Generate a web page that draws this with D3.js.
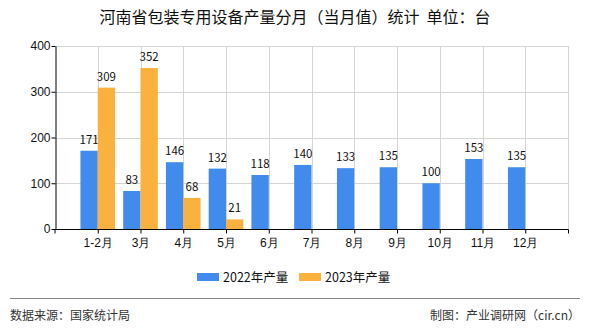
<!DOCTYPE html>
<html>
<head>
<meta charset="utf-8">
<script src="https://cdn.jsdelivr.net/npm/d3@7"></script>
<style>
  html, body { margin: 0; padding: 0; background: #fff; }
  svg { display: block; font-family: "Noto Sans CJK SC", "Liberation Sans", sans-serif; }
</style>
</head>
<body>
<svg id="chart" width="590" height="330"></svg>
<script>
// Monthly output of packaging machinery in Henan (units)
const months = ["1-2月", "3月", "4月", "5月", "6月", "7月", "8月", "9月", "10月", "11月", "12月"];
const output2022 = [171, 83, 146, 132, 118, 140, 133, 135, 100, 153, 135];
const output2023 = [309, 352, 68, 21, null, null, null, null, null, null, null];
const yTicks = [0, 100, 200, 300, 400];
const seriesNames = ["2022年产量", "2023年产量"];
const seriesColors = ["#418bec", "#fbb13d"];

const svg = d3.select("#chart");
const plotL = 55, plotR = 568, plotT = 46, plotB = 229;

const x = d3.scalePoint().domain(months).range([plotL, plotR]).padding(1);
const y = d3.scaleLinear().domain([0, 400]).range([plotB, plotT]);
const barW = x.step() * 0.405;

// title
svg.append("text")
  .attr("x", 295).attr("y", 23)
  .attr("text-anchor", "middle")
  .attr("font-size", 16)
  .style("white-space", "pre")
  .attr("fill", "#111")
  .text("河南省包装专用设备产量分月（当月值）统计  单位：台");

// grid
const grid = svg.append("g").attr("stroke", "#d4d4d4").attr("stroke-width", 1);
yTicks.filter(d => d > 0).forEach(v => {
  grid.append("line").attr("x1", plotL).attr("x2", plotR)
    .attr("y1", Math.round(y(v)) + 0.5).attr("y2", Math.round(y(v)) + 0.5);
});
months.forEach(m => {
  grid.append("line").attr("x1", Math.round(x(m)) + 0.5).attr("x2", Math.round(x(m)) + 0.5)
    .attr("y1", plotT).attr("y2", plotB);
});
grid.append("line").attr("x1", plotR + 0.5).attr("x2", plotR + 0.5).attr("y1", plotT).attr("y2", plotB);

// bars
const series = [output2022, output2023];
series.forEach((vals, si) => {
  const g = svg.append("g");
  months.forEach((m, i) => {
    const v = vals[i];
    if (v == null) return;
    const bx = x(m) + (si === 0 ? -barW : 0);
    g.append("rect")
      .attr("x", bx).attr("y", y(v))
      .attr("width", barW).attr("height", y(0) - y(v))
      .attr("fill", seriesColors[si]);
    g.append("text")
      .attr("x", bx + barW / 2).attr("y", y(v) - 7)
      .attr("text-anchor", "middle")
      .attr("font-size", 11.5)
      .attr("fill", "#111")
      .text(v);
  });
});

// y axis
const yAxis = svg.append("g").attr("transform", `translate(${plotL + 0.5},0)`)
  .call(d3.axisLeft(y).tickValues(yTicks).tickSize(4).tickSizeOuter(0));
yAxis.select(".domain").attr("stroke", "#000");
yAxis.selectAll("text").attr("font-size", 12).attr("fill", "#111").attr("x", -5)
  .attr("font-family", "'Liberation Sans', sans-serif");

// x axis
const xAxis = svg.append("g").attr("transform", `translate(0,${plotB + 0.5})`)
  .call(d3.axisBottom(x).tickSize(4).tickSizeOuter(4).tickPadding(5));
xAxis.select(".domain").attr("stroke", "#000").attr("d", `M${plotL},4V0H${plotR + 0.5}V4`);
xAxis.selectAll("text").attr("font-size", 12).attr("fill", "#111");

// legend
const legend = svg.append("g");
const legX = [197, 299];
seriesNames.forEach((name, i) => {
  legend.append("rect").attr("x", legX[i]).attr("y", 273).attr("width", 22).attr("height", 8)
    .attr("fill", seriesColors[i]);
  legend.append("text").attr("x", legX[i] + 26).attr("y", 282)
    .attr("font-size", 12.5).attr("fill", "#111").text(name);
});

// footer
svg.append("line").attr("x1", 10).attr("x2", 580).attr("y1", 298.5).attr("y2", 298.5)
  .attr("stroke", "#888").attr("stroke-width", 1);
svg.append("text").attr("x", 10).attr("y", 320).attr("font-size", 12).attr("fill", "#333")
  .text("数据来源：国家统计局");
svg.append("text").attr("x", 580).attr("y", 320).attr("text-anchor", "end")
  .attr("font-size", 12).attr("fill", "#333").text("制图：产业调研网（cir.cn）");
</script>
</body>
</html>
